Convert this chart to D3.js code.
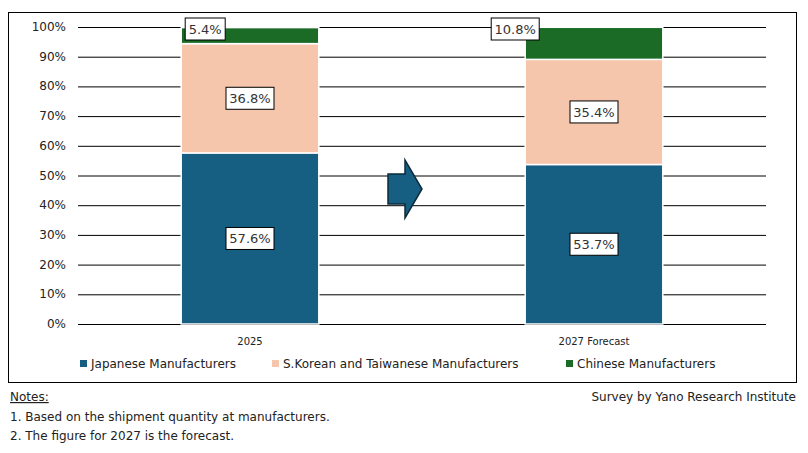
<!DOCTYPE html>
<html><head><meta charset="utf-8">
<script src="https://cdn.jsdelivr.net/npm/d3@7"></script>
<style>body{margin:0;background:#fff;font-family:"DejaVu Sans",Verdana,sans-serif}</style>
</head><body><svg id="c" width="808" height="453"></svg>
<script>
const categories = ["2025", "2027 Forecast"];
const japanese = [57.6, 53.7];
const korean = [36.8, 35.4];
const chinese = [5.4, 10.8];
const seriesNames = ["Japanese Manufacturers", "S.Korean and Taiwanese Manufacturers", "Chinese Manufacturers"];
const colors = ["#165f82", "#f5c6ab", "#1b6b27"];
const notes = ["1. Based on the shipment quantity at manufacturers.", "2. The figure for 2027 is the forecast."];

const svg = d3.select("#c");
svg.append("rect").attr("x", 8.5).attr("y", 12.5).attr("width", 788).attr("height", 370)
  .attr("fill", "none").attr("stroke", "#000");

const x = d3.scaleBand().domain(categories).range([78, 766]).paddingInner(0.6).paddingOuter(0.3);
const y = d3.scaleLinear().domain([0, 100]).range([324, 27]);

const ticks = d3.range(0, 101, 10);
svg.append("g").selectAll("line").data(ticks).join("line")
  .attr("x1", 78).attr("x2", 766).attr("y1", d => y(d) + 0.5).attr("y2", d => y(d) + 0.5)
  .attr("stroke", "#000").attr("stroke-width", 1);
svg.append("g").selectAll("text").data(ticks).join("text")
  .attr("x", 66).attr("y", d => y(d) + 4).attr("text-anchor", "end")
  .attr("font-size", 12).attr("fill", "#222").text(d => d + "%");

const series = [japanese, korean, chinese];
const rows = categories.map((c, i) => ({cat: c, 0: series[0][i], 1: series[1][i], 2: series[2][i]}));
const stack = d3.stack().keys([0, 1, 2])(rows);

stack.forEach((layer, k) => {
  svg.append("g").selectAll("rect").data(layer).join("rect")
    .attr("x", d => x(d.data.cat)).attr("width", x.bandwidth())
    .attr("y", d => y(d[1])).attr("height", d => y(d[0]) - y(d[1]))
    .attr("fill", colors[k]).attr("stroke", "#fff").attr("stroke-width", 1.5);
});

// labels
stack.forEach((layer, k) => {
  layer.forEach((d, i) => {
    let cy = (y(d[0]) + y(d[1])) / 2;
    const txt = series[k][i].toFixed(1) + "%";
    if (k === 2) cy = y(100) + 2;
    const cx = k === 2 ? x(d.data.cat) + (i === 0 ? 24 : -10) : x(d.data.cat) + x.bandwidth() / 2;
    const w = txt.length * 8 + 8;
    svg.append("rect").attr("x", cx - w / 2).attr("y", cy - 11).attr("width", w).attr("height", 22)
      .attr("fill", "#fff").attr("stroke", "#000");
    svg.append("text").attr("x", cx).attr("y", cy + 5).attr("text-anchor", "middle")
      .attr("font-size", 13).attr("fill", "#333").text(txt);
  });
});

svg.append("g").selectAll("text").data(categories).join("text")
  .attr("x", d => x(d) + x.bandwidth() / 2).attr("y", 345).attr("text-anchor", "middle")
  .attr("font-size", 10).attr("fill", "#222").text(d => d);

// arrow
svg.append("path").attr("d", "M388,174 L405,174 L405,160 L422,189 L405,218 L405,204 L388,204 Z")
  .attr("fill", "#165f82").attr("stroke", "#0d2b3a").attr("stroke-width", 1.5);

// legend
const lx = [80, 272, 566];
seriesNames.forEach((n, i) => {
  svg.append("rect").attr("x", lx[i]).attr("y", 360).attr("width", 7).attr("height", 7).attr("fill", colors[i]);
  svg.append("text").attr("x", lx[i] + 11).attr("y", 368).attr("font-size", 12).attr("fill", "#222").text(n);
});

svg.append("text").attr("x", 10).attr("y", 401).attr("font-size", 12).attr("fill", "#222")
  .attr("text-decoration", "underline").text("Notes:");
svg.append("text").attr("x", 796).attr("y", 401).attr("text-anchor", "end").attr("font-size", 12)
  .attr("fill", "#222").text("Survey by Yano Research Institute");
notes.forEach((n, i) => svg.append("text").attr("x", 10).attr("y", 421 + i * 19)
  .attr("font-size", 12).attr("fill", "#222").text(n));
</script></body></html>
